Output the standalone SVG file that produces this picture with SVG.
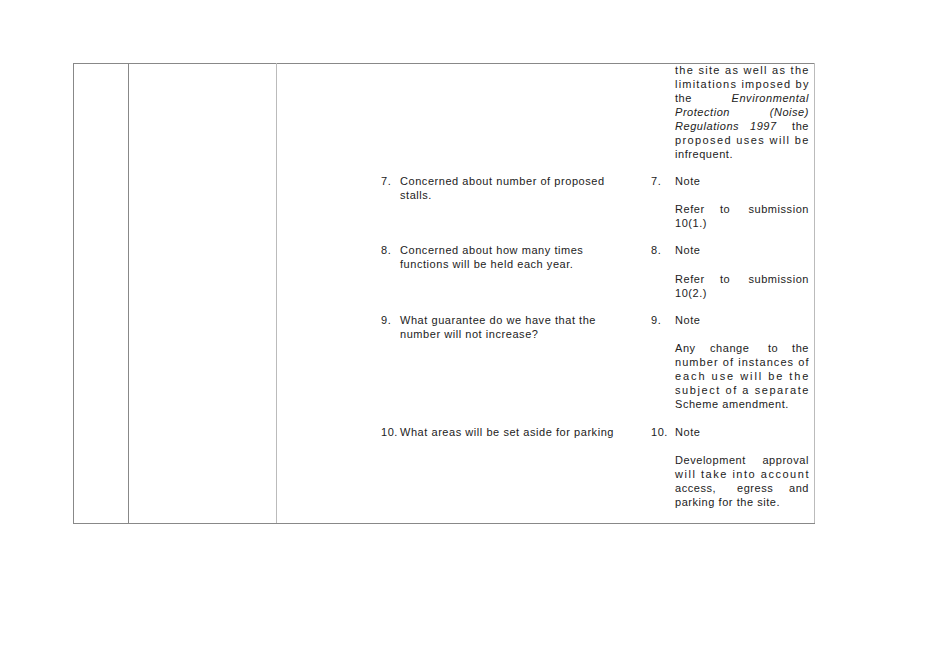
<svg xmlns="http://www.w3.org/2000/svg" width="928" height="656" viewBox="0 0 928 656">
<style>
text{font-family:"Liberation Sans",Arial,sans-serif;font-size:11px;fill:#222;letter-spacing:0.55px}
.i{font-style:italic}
.e{text-anchor:end}
.g{stroke:#888;stroke-width:1;fill:none}
.l{stroke:#bbb;stroke-width:1;fill:none}
</style>
<rect width="928" height="656" fill="#fff"/>
<g id="table">
<line class="g" x1="73" y1="63.5" x2="815" y2="63.5"/>
<line class="g" x1="73" y1="523.5" x2="815" y2="523.5"/>
<line class="g" x1="73.5" y1="63" x2="73.5" y2="523"/>
<line class="g" x1="128.5" y1="63" x2="128.5" y2="523"/>
<line class="l" x1="276.5" y1="63" x2="276.5" y2="523"/>
<line class="l" x1="814.5" y1="63" x2="814.5" y2="523"/>
</g>
<g id="right-intro">
<text x="675" y="74" textLength="134" lengthAdjust="spacing">the site as well as the</text>
<text x="675" y="88" textLength="134" lengthAdjust="spacing">limitations imposed by</text>
<text x="675" y="102">the</text><text class="e i" x="809" y="102">Environmental</text>
<text class="i" x="675" y="116">Protection</text><text class="e i" x="809" y="116">(Noise)</text>
<text class="i" x="675" y="130">Regulations</text><text class="i" x="750" y="130">1997</text><text class="e" x="809" y="130">the</text>
<text x="675" y="144" textLength="134" lengthAdjust="spacing">proposed uses will be</text>
<text x="675" y="158">infrequent.</text>
</g>
<g id="item7">
<text x="381" y="185">7.</text><text x="400" y="185">Concerned about number of proposed</text>
<text x="400" y="199">stalls.</text>
<text x="651" y="185">7.</text><text x="675" y="185">Note</text>
<text x="675" y="213">Refer</text><text x="720" y="213">to</text><text class="e" x="809" y="213">submission</text>
<text x="675" y="227">10(1.)</text>
</g>
<g id="item8">
<text x="381" y="254">8.</text><text x="400" y="254">Concerned about how many times</text>
<text x="400" y="268">functions will be held each year.</text>
<text x="651" y="254">8.</text><text x="675" y="254">Note</text>
<text x="675" y="283">Refer</text><text x="720" y="283">to</text><text class="e" x="809" y="283">submission</text>
<text x="675" y="297">10(2.)</text>
</g>
<g id="item9">
<text x="381" y="324">9.</text><text x="400" y="324">What guarantee do we have that the</text>
<text x="400" y="338">number will not increase?</text>
<text x="651" y="324">9.</text><text x="675" y="324">Note</text>
<text x="675" y="352">Any</text><text x="710" y="352">change</text><text x="768" y="352">to</text><text class="e" x="809" y="352">the</text>
<text x="675" y="366" textLength="134" lengthAdjust="spacing">number of instances of</text>
<text x="675" y="380" textLength="134" lengthAdjust="spacing">each use will be the</text>
<text x="675" y="394" textLength="134" lengthAdjust="spacing">subject of a separate</text>
<text x="675" y="408">Scheme amendment.</text>
</g>
<g id="item10">
<text x="381" y="436">10.</text><text x="400" y="436">What areas will be set aside for parking</text>
<text x="651" y="436">10.</text><text x="675" y="436">Note</text>
<text x="675" y="464">Development</text><text class="e" x="809" y="464">approval</text>
<text x="675" y="478" textLength="134" lengthAdjust="spacing">will take into account</text>
<text x="675" y="492">access,</text><text x="737" y="492">egress</text><text class="e" x="809" y="492">and</text>
<text x="675" y="506">parking for the site.</text>
</g>
</svg>
